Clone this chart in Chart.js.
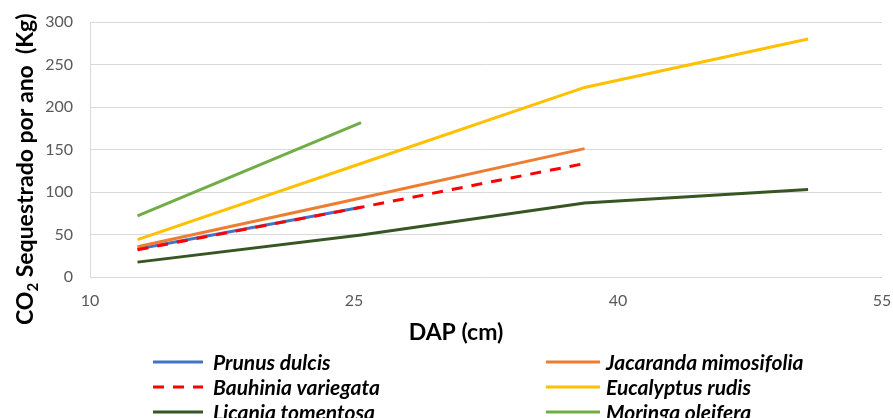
<!DOCTYPE html>
<html>
<head>
<meta charset="utf-8">
<title>CO2 sequestrado por ano</title>
<script src="https://cdn.jsdelivr.net/npm/chart.js"></script>
<style>
  html, body { margin: 0; padding: 0; background: #fff; }
  #wrap { width: 893px; height: 418px; position: relative; }
</style>
</head>
<body>
<div id="wrap"><canvas id="co2Chart"></canvas></div>
<script>
// DAP classes (cm) and CO2 sequestered per year (kg) per species
const dapCm = [12.7, 25.4, 38.1, 50.8];
const prunusDulcis = [33, 82];
const jacarandaMimosifolia = [35.5, 93, 151];
const bauhiniaVariegata = [32, 82, 133.5];
const eucalyptusRudis = [44, 133.5, 223, 280];
const licaniaTomentosa = [17.5, 49.5, 87, 103];
const moringaOleifera = [72, 181.5];

const xTicks = [10, 25, 40, 55];
const yTicks = [0, 50, 100, 150, 200, 250, 300];

function toPoints(values) {
  return values.map((v, i) => ({ x: dapCm[i], y: v }));
}

function series(label, values, color, dash) {
  return {
    label: label,
    data: toPoints(values),
    borderColor: color,
    backgroundColor: color,
    borderWidth: 3,
    borderDash: dash || [],
    pointRadius: 0,
    pointHoverRadius: 0,
    tension: 0,
    showLine: true,
    fill: false
  };
}

const datasets = [
  series('Prunus dulcis', prunusDulcis, '#4472C4'),
  series('Jacaranda mimosifolia', jacarandaMimosifolia, '#ED7D31'),
  series('Bauhinia variegata', bauhiniaVariegata, '#FF0000', [11, 9]),
  series('Eucalyptus rudis', eucalyptusRudis, '#FFC000'),
  series('Licania tomentosa', licaniaTomentosa, '#375623'),
  series('Moringa oleifera', moringaOleifera, '#70AD47')
];
// later series sit on top, like the dashed line over the blue one
datasets.forEach((d, i) => { d.order = -i; });

// axis titles (with the subscript in CO2) and the two-column legend
const extras = {
  id: 'extras',
  afterDraw(chart) {
    const ctx = chart.ctx;

    ctx.save();
    ctx.fillStyle = '#000';
    ctx.textBaseline = 'alphabetic';
    ctx.textAlign = 'left';
    ctx.translate(33, 325);
    ctx.rotate(-Math.PI / 2);
    let x = 0;
    ctx.font = 'bold 23px Lato';
    ctx.fillText('CO', x, 0);
    x += ctx.measureText('CO').width;
    ctx.font = 'bold 15px Lato';
    ctx.fillText('2', x, 5);
    x += ctx.measureText('2').width;
    ctx.font = 'bold 23px Lato';
    ctx.fillText(' Sequestrado por ano  (Kg)', x, 0);
    ctx.restore();

    ctx.save();
    ctx.fillStyle = '#000';
    ctx.font = 'bold 23px Lato';
    ctx.textAlign = 'center';
    ctx.textBaseline = 'alphabetic';
    ctx.fillText('DAP (cm)', 456, 340);
    ctx.restore();

    const cols = [{ x0: 153, x1: 203, tx: 213 }, { x0: 546, x1: 600, tx: 606 }];
    const rows = [362, 387, 412];
    chart.data.datasets.forEach((ds, i) => {
      const c = cols[i % 2];
      const y = rows[Math.floor(i / 2)];
      ctx.save();
      ctx.strokeStyle = ds.borderColor;
      ctx.lineWidth = 3;
      ctx.setLineDash(ds.borderDash || []);
      ctx.beginPath();
      ctx.moveTo(c.x0, y);
      ctx.lineTo(c.x1, y);
      ctx.stroke();
      ctx.setLineDash([]);
      ctx.fillStyle = '#000';
      ctx.font = 'italic bold 21px Lato';
      ctx.textAlign = 'left';
      ctx.textBaseline = 'middle';
      ctx.fillText(ds.label, c.tx, y + 1);
      ctx.restore();
    });
  }
};

Chart.defaults.font.family = 'Lato';

new Chart(document.getElementById('co2Chart'), {
  type: 'scatter',
  data: { datasets: datasets },
  options: {
    responsive: true,
    maintainAspectRatio: false,
    animation: false,
    layout: { padding: { top: 22, right: 11, left: 0, bottom: 0 } },
    plugins: {
      legend: { display: false },
      tooltip: { enabled: false }
    },
    scales: {
      x: {
        type: 'linear',
        min: 10,
        max: 55,
        afterBuildTicks(s) { s.ticks = xTicks.map(v => ({ value: v })); },
        ticks: { color: '#595959', font: { size: 16 }, padding: 14 },
        grid: { display: false, drawTicks: false },
        border: { display: false },
        afterFit(s) { s.height = 141; s.paddingLeft = 0; s.paddingRight = 0; }
      },
      y: {
        min: 0,
        max: 300,
        afterBuildTicks(s) { s.ticks = yTicks.map(v => ({ value: v })); },
        ticks: { color: '#595959', font: { size: 16 }, padding: 17 },
        grid: { color: '#d9d9d9', lineWidth: 1, drawTicks: false },
        border: { display: true, color: '#d9d9d9', width: 1 },
        afterFit(s) { s.width = 90; s.paddingTop = 0; s.paddingBottom = 0; }
      }
    }
  },
  plugins: [extras]
});
</script>
</body>
</html>
